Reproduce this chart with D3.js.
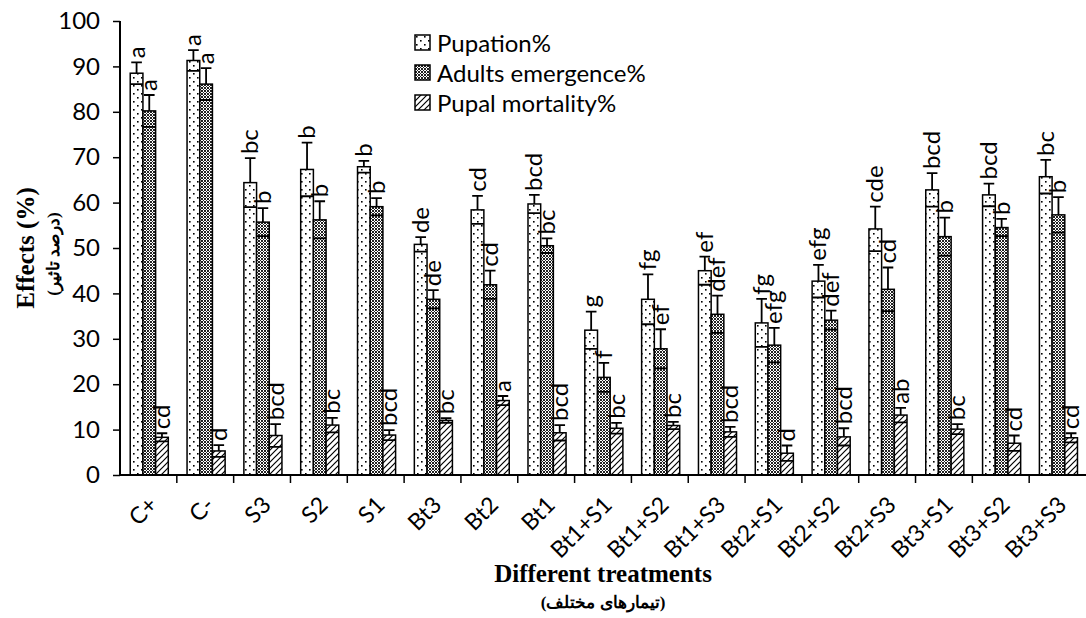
<!DOCTYPE html>
<html>
<head>
<meta charset="utf-8">
<script src="https://cdn.jsdelivr.net/npm/d3@7"></script>
<style>
  body { margin: 0; background: #fff; }
  svg { display: block; }
</style>
</head>
<body>
<div id="chart"></div>
<script>
var categories = ["C+","C-","S3","S2","S1","Bt3","Bt2","Bt1","Bt1+S1","Bt1+S2","Bt1+S3","Bt2+S1","Bt2+S2","Bt2+S3","Bt3+S1","Bt3+S2","Bt3+S3"];
var seriesNames = ["Pupation%","Adults emergence%","Pupal mortality%"];

var pupation     = [88.5, 91.3, 64.4, 67.3, 67.9, 50.8, 58.4, 59.7, 31.9, 38.7, 45.0, 33.5, 42.7, 54.2, 62.8, 61.7, 65.7];
var pupationErr  = [2.4, 2.3, 5.4, 5.9, 1.3, 1.6, 3.1, 2.0, 4.1, 5.5, 3.1, 5.3, 3.6, 4.9, 3.7, 2.5, 3.7];
var adults       = [80.2, 86.1, 55.7, 56.2, 59.1, 38.7, 41.9, 50.5, 21.5, 27.8, 35.4, 28.6, 34.1, 40.9, 52.5, 54.5, 57.3];
var adultsErr    = [3.5, 3.5, 3.1, 4.1, 1.9, 2.0, 3.1, 1.6, 3.2, 4.3, 4.1, 3.8, 2.1, 4.8, 4.2, 1.9, 3.9];
var mortality    = [8.3, 5.3, 8.7, 11.0, 8.8, 12.0, 16.4, 9.3, 10.3, 10.9, 9.5, 4.8, 8.4, 13.2, 10.1, 7.0, 8.2];
var mortalityErr = [0.9, 1.3, 2.5, 1.6, 1.1, 0.5, 1.0, 1.7, 1.2, 0.8, 1.1, 1.7, 1.9, 1.6, 1.1, 1.7, 1.0];

var pupationLetters  = ["a","a","bc","b","b","de","cd","bcd","g","fg","ef","fg","efg","cde","bcd","bcd","bc"];
var adultsLetters    = ["a","a","b","b","b","de","cd","bc","f","ef","def","efg","def","cd","b","b","b"];
var mortalityLetters = ["cd","d","bcd","bc","bcd","bc","a","bcd","bc","bc","bcd","d","bcd","ab","bc","cd","cd"];

var yTicks = [0,10,20,30,40,50,60,70,80,90,100];

var width = 1086, height = 618;
var plotLeft = 120, plotRight = 1086, plotTop = 21, plotBottom = 475;
var font = "Lato, 'Open Sans', sans-serif";
var serif = "'Liberation Serif', 'DejaVu Serif', serif";

var svg = d3.select('#chart').append('svg')
  .attr('width', width)
  .attr('height', height);

var defs = svg.append('defs');

// dotted fill
var pDots = defs.append('pattern').attr('id','dots')
  .attr('patternUnits','userSpaceOnUse').attr('width',8).attr('height',8);
pDots.append('rect').attr('width',8).attr('height',8).attr('fill','#fff');
pDots.append('rect').attr('x',1).attr('y',1).attr('width',1.6).attr('height',1.6).attr('fill','#000');
pDots.append('rect').attr('x',5).attr('y',5).attr('width',1.6).attr('height',1.6).attr('fill','#000');

// checker fill
var pCheck = defs.append('pattern').attr('id','check')
  .attr('patternUnits','userSpaceOnUse').attr('width',3).attr('height',3);
pCheck.append('rect').attr('width',3).attr('height',3).attr('fill','#fff');
pCheck.append('rect').attr('width',2).attr('height',2).attr('fill','#222');
pCheck.append('rect').attr('x',2).attr('y',2).attr('width',1).attr('height',1).attr('fill','#222');

// diagonal fill
var pDiag = defs.append('pattern').attr('id','diag')
  .attr('patternUnits','userSpaceOnUse').attr('width',6).attr('height',6);
pDiag.append('rect').attr('width',6).attr('height',6).attr('fill','#fff');
pDiag.append('path').attr('d','M-1,7 L7,-1 M-4,4 L4,-4 M2,10 L10,2')
  .attr('stroke','#000').attr('stroke-width',1.2);

var fills = ['url(#dots)','url(#check)','url(#diag)'];

var series = [
  {values: pupation, errs: pupationErr, letters: pupationLetters},
  {values: adults, errs: adultsErr, letters: adultsLetters},
  {values: mortality, errs: mortalityErr, letters: mortalityLetters}
];

var x0 = d3.scaleBand().domain(categories).range([plotLeft, plotRight]);
var x1 = d3.scaleBand().domain(d3.range(3))
  .range([x0.bandwidth()*0.18, x0.bandwidth()*0.85]);
var y = d3.scaleLinear().domain([0,100]).range([plotBottom, plotTop]);
var bw = x1.bandwidth();

function barX(cat, si){ return x0(cat) + x1(si); }

var barLayer = svg.append('g');
var letterLayer = svg.append('g');

series.forEach(function(s, si){
  barLayer.selectAll('.bar'+si).data(categories).enter().append('rect')
    .attr('class','bar'+si)
    .attr('x', function(d){ return barX(d, si); })
    .attr('y', function(d,i){ return y(s.values[i]); })
    .attr('width', bw)
    .attr('height', function(d,i){ return y(0) - y(s.values[i]); })
    .attr('fill', fills[si])
    .attr('stroke','#000').attr('stroke-width',1.5);

  var cap = bw*0.42;
  // error bars (upper part plus lower cap)
  barLayer.selectAll('.err'+si).data(categories).enter().append('path')
    .attr('class','err'+si)
    .attr('d', function(d,i){
      var v = s.values[i], e = s.errs[i];
      var bx = barX(d, si), cx = bx + bw/2;
      return 'M'+cx+','+y(v)+' L'+cx+','+y(v+e)+
        ' M'+(cx-cap)+','+y(v+e)+' L'+(cx+cap)+','+y(v+e)+
        ' M'+bx+','+y(v-e)+' L'+(bx+bw)+','+y(v-e);
    })
    .attr('fill','none').attr('stroke','#000').attr('stroke-width',1.8);

  // significance letters, reading bottom to top
  letterLayer.selectAll('.let'+si).data(categories).enter().append('text')
    .attr('class','let'+si)
    .attr('transform', function(d,i){
      var cx = barX(d, si) + bw/2 + 8;
      return 'translate('+cx+','+(y(s.values[i]+s.errs[i])-4)+') rotate(-90)';
    })
    .attr('text-anchor','start')
    .style('font-family', font).style('font-size','24px')
    .text(function(d,i){ return s.letters[i]; });
});

// y axis
var yAxis = svg.append('g').attr('transform','translate('+plotLeft+',0)')
  .call(d3.axisLeft(y).tickValues(yTicks).tickSize(7).tickPadding(13));
yAxis.select('.domain').attr('stroke-width',2).attr('d','M0,'+plotTop+'V'+plotBottom);
yAxis.selectAll('.tick line').attr('stroke-width',1.5);
yAxis.selectAll('text').style('font-family',font).style('font-size','24px').attr('fill','#000');

// x axis
var xAxis = svg.append('g').attr('transform','translate(0,'+plotBottom+')')
  .call(d3.axisBottom(x0).tickSize(0).tickFormat(''));
xAxis.select('.domain').attr('stroke-width',2).attr('d','M'+plotLeft+',0H'+plotRight);
xAxis.selectAll('.sep').data(categories.slice(1)).enter().append('line')
  .attr('x1', function(d){ return x0(d); }).attr('x2', function(d){ return x0(d); })
  .attr('y1',0).attr('y2',8).attr('stroke','#000').attr('stroke-width',1.5);
svg.append('g').selectAll('text').data(categories).enter().append('text')
  .attr('transform', function(d){
    return 'translate('+(x0(d)+x0.bandwidth()/2-1)+','+(plotBottom+20)+') rotate(-45)';
  })
  .attr('text-anchor','end')
  .attr('dy','0.7em')
  .style('font-family',font).style('font-size','23px')
  .text(function(d){ return d; });

// axis titles
svg.append('text')
  .attr('transform','translate(34,248) rotate(-90)')
  .attr('text-anchor','middle')
  .style('font-family',serif).style('font-weight','bold').style('font-size','25px')
  .text('Effects (%)');
svg.append('text')
  .attr('transform','translate(59,254) rotate(-90)')
  .attr('text-anchor','middle')
  .style('font-family',serif).style('font-weight','bold').style('font-size','17px')
  .text('(درصد تاثیر)');
svg.append('text')
  .attr('x', (plotLeft+plotRight)/2).attr('y', 582)
  .attr('text-anchor','middle')
  .style('font-family',serif).style('font-weight','bold').style('font-size','25px')
  .text('Different treatments');
svg.append('text')
  .attr('x', (plotLeft+plotRight)/2).attr('y', 608)
  .attr('text-anchor','middle')
  .style('font-family',serif).style('font-weight','bold').style('font-size','17px')
  .text('(تیمارهای مختلف)');

// legend
var legend = svg.append('g').attr('transform','translate(415,35)');
var li = legend.selectAll('g').data(seriesNames).enter().append('g')
  .attr('transform', function(d,i){ return 'translate(0,'+(i*30)+')'; });
li.append('rect').attr('width',15).attr('height',15)
  .attr('fill', function(d,i){ return fills[i]; })
  .attr('stroke','#000').attr('stroke-width',1.5);
li.append('text').attr('x',22).attr('y',8).attr('dy','0.36em')
  .style('font-family',font).style('font-size','24px')
  .text(function(d){ return d; });
</script>
</body>
</html>
